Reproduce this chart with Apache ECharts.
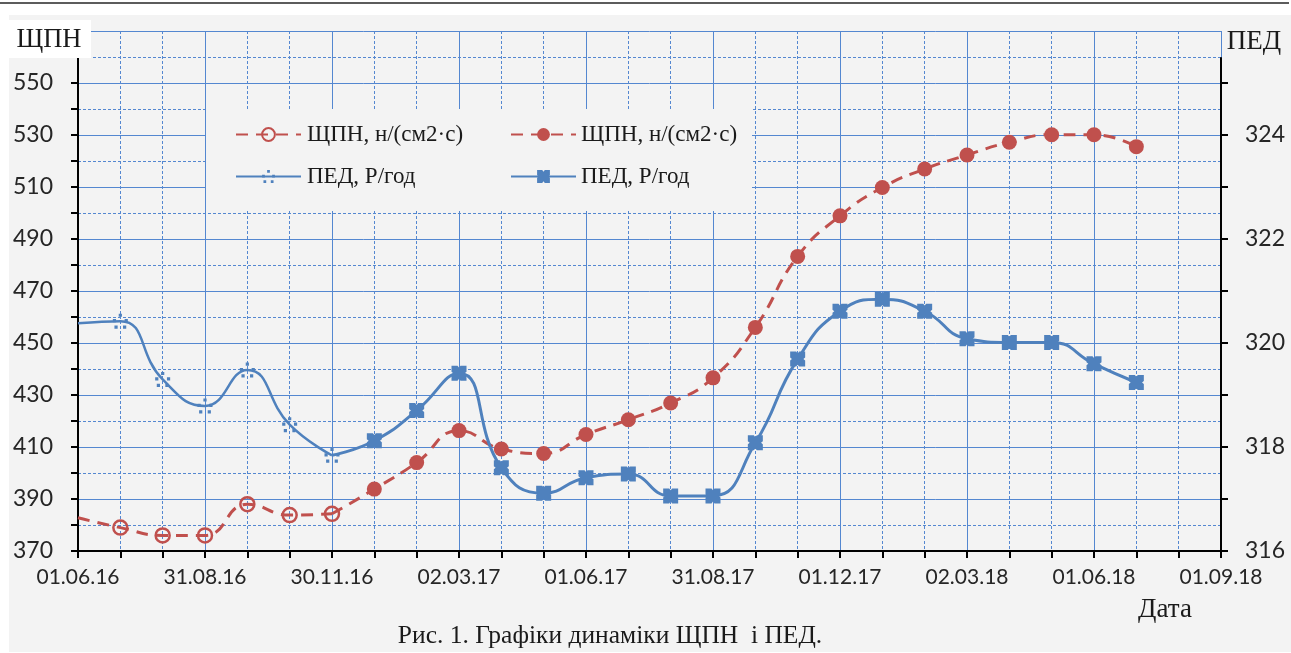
<!DOCTYPE html>
<html>
<head>
<meta charset="utf-8">
<script src="https://cdn.jsdelivr.net/npm/echarts@6/dist/echarts.min.js"></script>
<style>
  html, body { margin: 0; padding: 0; background: #fff; }
  #rule { position: absolute; left: 0; top: 2px; width: 1289px; height: 2px; background: #5c5c5c; }
  #panel { position: absolute; left: 9px; top: 15px; right: 0; bottom: 1px; background: #f3f3f3; }
  #main { position: absolute; left: 0; top: 0; width: 1291px; height: 653px; }
</style>
</head>
<body>
<div id="rule"></div>
<div id="panel"></div>
<div id="main"></div>
<script>
// x = month index from 01.06.16
var monthsOpen = [0, 1, 2, 3, 4, 5, 6];
var monthsFilled = [6, 7, 8, 9, 10, 11, 12, 13, 14, 15, 16, 17, 18, 19, 20, 21, 22, 23, 24, 25];

// ЩПН, н/(см2·с) - left axis
var shpnOpen = [382.8, 379.0, 376.0, 376.0, 388.0, 383.8, 384.3];
var shpnFilled = [384.3, 393.8, 404.0, 416.3, 409.2, 407.5, 414.8, 420.5, 426.9, 436.6,
  456.0, 483.3, 498.9, 509.8, 516.9, 522.3, 527.2, 530.1, 530.1, 525.5];

// ПЕД, Р/год - right axis
var pedOpen = [320.38, 320.42, 319.30, 318.79, 319.48, 318.43, 317.84];
var pedFilled = [317.84, 318.12, 318.70, 319.42, 317.60, 317.11, 317.41, 317.48, 317.06, 317.06,
  318.08, 319.69, 320.61, 320.84, 320.61, 320.08, 320.01, 320.01, 319.60, 319.24];

// axes
var dateLabels = ["01.06.16", "31.08.16", "30.11.16", "02.03.17", "01.06.17",
  "31.08.17", "01.12.17", "02.03.18", "01.06.18", "01.09.18"];
var xTicks = [0, 1, 2, 3, 4, 5, 6, 7, 8, 9, 10, 11, 12, 13, 14, 15, 16, 17, 18, 19, 20, 21, 22, 23, 24, 25, 26, 27];
var xLabelTicks = [0, 3, 6, 9, 12, 15, 18, 21, 24, 27];
var leftTicks = [370, 380, 390, 400, 410, 420, 430, 440, 450, 460, 470, 480, 490, 500, 510, 520, 530, 540, 550];
var leftLabels = [370, 390, 410, 430, 450, 470, 490, 510, 530, 550];
var rightTicks = [316, 317, 318, 319, 320, 321, 322, 323, 324, 325];
var rightLabels = [316, 318, 320, 322, 324];

var blue = "#4f81bd";
var red = "#c0504d";
var gridBlue = "#5487d0";
var serif = '"Liberation Serif", "Times New Roman", serif';
var sans = 'Lato, "Open Sans", sans-serif';

function zip(xs, ys) {
  return xs.map(function (x, i) { return [x, ys[i]]; });
}
// first point only carries the line, no marker
function firstNoSymbol(arr) {
  return arr.map(function (p, i) {
    return i === 0 ? { value: p, symbol: "none" } : p;
  });
}

var legendNames = {
  shpn1: "ЩПН, н/(см2·с)",
  shpn2: "ЩПН, н/(см2·с)",
  ped1: "ПЕД, Р/год",
  ped2: "ПЕД, Р/год"
};

var starPath = "path://M5.5,0h3v3h-3z M0,5h3v3h-3z M11,5h3v3h-3z M1.5,11h3v3h-3z M9.5,11h3v3h-3z";
var boxPath = "path://M0,0L4,0L5,1.2L6,0L10,0L10,4L8.8,5L10,6L10,10L6,10L5,8.8L4,10L0,10L0,6L1.2,5L0,4Z";

var myChart = echarts.init(document.getElementById("main"));
myChart.setOption({
  animation: false,
  backgroundColor: "transparent",
  grid: [
    { left: 78, right: 70, top: 31, bottom: 102 },
    { left: 78, right: 70, top: 58, bottom: 102 }
  ],
  xAxis: [
    {
      gridIndex: 0, type: "value", min: 0, max: 27, interval: 3,
      axisLine: { show: false }, axisTick: { show: false }, axisLabel: { show: false },
      splitLine: { show: true, lineStyle: { color: gridBlue, width: 1 } },
      minorTick: { show: false, splitNumber: 3 },
      minorSplitLine: { show: true, lineStyle: { color: gridBlue, width: 1, type: [3, 2] } }
    },
    {
      gridIndex: 1, type: "value", min: 0, max: 27,
      axisLine: { show: true, onZero: false, lineStyle: { color: "#000", width: 2 } },
      axisTick: { show: true, length: 7, lineStyle: { color: "#000", width: 2 }, customValues: xTicks },
      axisLabel: {
        customValues: xLabelTicks, margin: 16, color: "#262626", fontFamily: sans, fontSize: 21,
        formatter: function (v) { return dateLabels[Math.round(v / 3)]; }
      },
      splitLine: { show: false }
    }
  ],
  yAxis: [
    {
      gridIndex: 0, type: "value", min: 370, max: 570, interval: 20,
      axisLine: { show: false }, axisTick: { show: false }, axisLabel: { show: false },
      splitLine: { show: true, lineStyle: { color: gridBlue, width: 1 } },
      minorTick: { show: false, splitNumber: 2 },
      minorSplitLine: { show: true, lineStyle: { color: gridBlue, width: 1, type: [3, 2] } }
    },
    {
      gridIndex: 1, type: "value", min: 370, max: 559.6, position: "left",
      axisLine: { show: true, onZero: false, lineStyle: { color: "#000", width: 2 } },
      axisTick: { show: true, length: 7, lineStyle: { color: "#000", width: 2 }, customValues: leftTicks },
      axisLabel: { customValues: leftLabels, margin: 25, color: "#262626", fontFamily: sans, fontSize: 23 },
      splitLine: { show: false }
    },
    {
      gridIndex: 1, type: "value", min: 316, max: 325.48, position: "right",
      axisLine: { show: true, onZero: false, lineStyle: { color: "#000", width: 2 } },
      axisTick: { show: true, length: 7, lineStyle: { color: "#000", width: 2 }, customValues: rightTicks },
      axisLabel: { customValues: rightLabels, margin: 24, color: "#262626", fontFamily: sans, fontSize: 23 },
      splitLine: { show: false }
    }
  ],
  legend: [
    {
      data: ["shpn1", "ped1"], orient: "vertical", left: 230, top: 118,
      itemWidth: 65, itemHeight: 16, itemGap: 19, z: 10,
      formatter: function (n) { return legendNames[n]; },
      textStyle: { fontFamily: serif, fontSize: 23, color: "#1a1a1a", padding: [0, 0, 0, 1] }
    },
    {
      data: ["shpn2", "ped2"], orient: "vertical", left: 505, top: 118,
      itemWidth: 65, itemHeight: 16, itemGap: 19, z: 10,
      formatter: function (n) { return legendNames[n]; },
      textStyle: { fontFamily: serif, fontSize: 23, color: "#1a1a1a", padding: [0, 0, 0, 0] }
    }
  ],
  graphic: [
    // legend background hides the grid
    { type: "rect", z: 3, shape: { x: 206, y: 109, width: 546, height: 102 }, style: { fill: "#f3f3f3" } },
    { type: "rect", z: 3, shape: { x: 9, y: 20, width: 82, height: 38 }, style: { fill: "#fff" } },
    { type: "text", z: 4, style: { text: "ЩПН", x: 49, y: 40, textAlign: "center", textVerticalAlign: "middle", font: "26.5px " + serif, fill: "#1a1a1a" } },
    { type: "text", z: 4, style: { text: "ПЕД", x: 1254, y: 42, textAlign: "center", textVerticalAlign: "middle", font: "27px " + serif, fill: "#1a1a1a" } },
    { type: "text", z: 4, style: { text: "Дата", x: 1165, y: 610, textAlign: "center", textVerticalAlign: "middle", font: "27px " + serif, fill: "#1a1a1a" } },
    { type: "text", z: 4, style: { text: "Рис. 1. Графіки динаміки ЩПН  і ПЕД.", x: 610, y: 636, textAlign: "center", textVerticalAlign: "middle", font: "25.5px " + serif, fill: "#1a1a1a" } }
  ],
  series: [
    {
      name: "shpn1", type: "line", xAxisIndex: 1, yAxisIndex: 1, smooth: 0.5,
      data: firstNoSymbol(zip(monthsOpen, shpnOpen)),
      symbol: "circle", symbolSize: 14,
      lineStyle: { color: red, width: 3, type: [12, 8] },
      itemStyle: { color: "rgba(0,0,0,0)", borderColor: red, borderWidth: 2.5 }
    },
    {
      name: "shpn2", type: "line", xAxisIndex: 1, yAxisIndex: 1, smooth: 0.5,
      data: firstNoSymbol(zip(monthsFilled, shpnFilled)),
      symbol: "circle", symbolSize: 15,
      lineStyle: { color: red, width: 3, type: [12, 8] },
      itemStyle: { color: red }
    },
    {
      name: "ped1", type: "line", xAxisIndex: 1, yAxisIndex: 2, smooth: 0.5,
      data: firstNoSymbol(zip(monthsOpen, pedOpen)),
      symbol: starPath, symbolSize: 15,
      lineStyle: { color: blue, width: 2.5 },
      itemStyle: { color: blue }
    },
    {
      name: "ped2", type: "line", xAxisIndex: 1, yAxisIndex: 2, smooth: 0.5,
      data: firstNoSymbol(zip(monthsFilled, pedFilled)),
      symbol: boxPath, symbolSize: 15,
      lineStyle: { color: blue, width: 3 },
      itemStyle: { color: blue }
    }
  ]
});
</script>
</body>
</html>
